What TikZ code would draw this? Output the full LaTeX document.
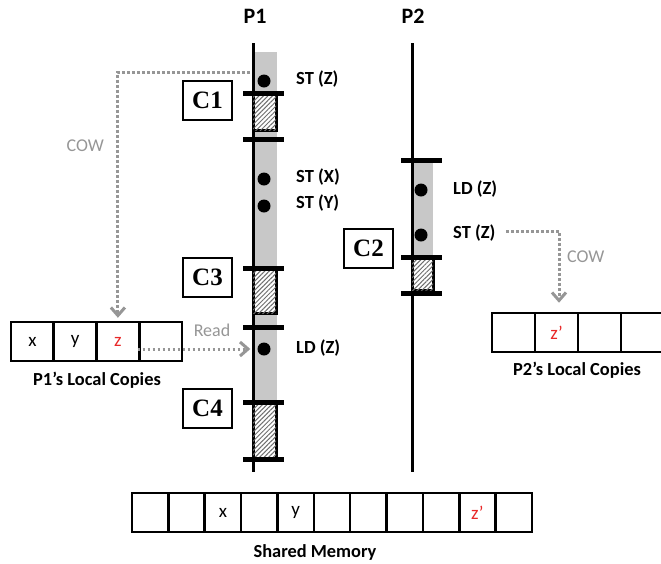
\documentclass[tikz,border=0pt]{standalone}
\usepackage{fontspec}
\setmainfont{Carlito}
\newfontfamily\serifbf{Liberation Serif}
\usetikzlibrary{arrows.meta,patterns.meta}
\definecolor{band}{RGB}{200,200,200}
\definecolor{cowgray}{RGB}{150,150,150}
\definecolor{zred}{RGB}{232,40,40}
\definecolor{hatchc}{RGB}{110,110,110}
\tikzset{
  proc/.style={line width=3pt},
  barline/.style={line width=5pt},
  hatchbox/.style={draw=black,line width=3pt,fill=white,
    postaction={pattern={Lines[angle=45,distance=3.2pt,line width=1pt]},pattern color=hatchc}},
  dot/.style={circle,fill=black,inner sep=0pt,minimum size=13pt},
  ckbox/.style={draw,line width=2pt,minimum width=49pt,minimum height=39pt,inner sep=0pt,
    font=\serifbf\bfseries\fontsize{25}{25}\selectfont},
  lab/.style={anchor=west,inner sep=0pt,font=\bfseries\fontsize{18.5}{19}\selectfont},
  ptitle/.style={inner sep=0pt,font=\bfseries\fontsize{22}{22}\selectfont},
  captxt/.style={inner sep=0pt,font=\bfseries\fontsize{18.4}{19}\selectfont},
  graytxt/.style={inner sep=0pt,text=cowgray,font=\fontsize{18}{18}\selectfont},
  cowline/.style={draw=cowgray,line width=3pt,dash pattern=on 2.6pt off 2.4pt,
    -{Straight Barb[length=8pt,width=14pt,line width=3pt]}},
  cellp/.style={draw,line width=2.5pt,minimum width=42.75pt,minimum height=39pt,inner sep=0pt,
    font=\fontsize{19}{19}\selectfont},
  cellm/.style={draw,line width=2.5pt,minimum width=36.36pt,minimum height=39pt,inner sep=0pt,
    font=\fontsize{19}{19}\selectfont},
}
\begin{document}
\begin{tikzpicture}[x=1pt,y=-1pt]
\useasboundingbox (0,0) rectangle (661,563);
% titles
\node[ptitle] (P1) at (255,16) {P1};
\node[ptitle] (P2) at (413,16) {P2};
% P1 timeline
\fill[band] (253,52) rectangle (277,402);
\coordinate (p1top) at (253,43);
\coordinate (p1bot) at (253,472);
\draw[proc] (p1top) -- (p1bot);
% P2 timeline
\fill[band] (412,160) rectangle (433,257);
\coordinate (p2top) at (412,43);
\coordinate (p2bot) at (412,472);
\draw[proc] (p2top) -- (p2bot);
% hatched boxes
\draw[hatchbox] (253,93) rectangle (276,130);
\draw[hatchbox] (253,268) rectangle (276,313);
\draw[hatchbox] (253,402) rectangle (276,459);
\draw[hatchbox] (412,257) rectangle (433,290);
% bars
\foreach \y/\n in {93/a,139/b,268/c,327/d,402/e,459/f}{
  \coordinate (b1\n l) at (243,\y); \coordinate (b1\n r) at (284,\y);
  \draw[barline] (b1\n l) -- (b1\n r);
}
\foreach \y/\n in {160/a,257/b,293/c}{
  \coordinate (b2\n l) at (401,\y); \coordinate (b2\n r) at (442,\y);
  \draw[barline] (b2\n l) -- (b2\n r);
}
% checkpoint boxes
\node[ckbox] (C1) at (207.5,100.5) {C1};
\node[ckbox] (C3) at (207.5,277) {C3};
\node[ckbox] (C4) at (207.5,408.5) {C4};
\node[ckbox] (C2) at (368.5,248.5) {C2};
% dots and labels P1
\node[dot] (d1) at (264,81) {};
\node[dot] (d2) at (264,179) {};
\node[dot] (d3) at (264,206) {};
\node[dot] (d4) at (264,349) {};
\node[lab] (l1) at (296,79) {ST (Z)};
\node[lab] (l2) at (296,177) {ST (X)};
\node[lab] (l3) at (296,203) {ST (Y)};
\node[lab] (l4) at (296,348) {LD (Z)};
% dots and labels P2
\node[dot] (e1) at (421,190) {};
\node[dot] (e2) at (421,235) {};
\node[lab] (k1) at (453,189) {LD (Z)};
\node[lab] (k2) at (453,233) {ST (Z)};
% P1 local copies
\node[cellp] (lx) at (32.4,341.5) {x};
\node[cellp] (ly) at (75.1,341.5) {y};
\node[cellp,text=zred] (lz) at (117.9,341.5) {z};
\node[cellp] (lw) at (160.6,341.5) {};
\node[captxt] (lcap) at (97,380) {P1’s Local Copies};
% P2 local copies
\node[cellp] (ra) at (513.5,332.5) {};
\node[cellp,text=zred] (rz) at (556.5,332.5) {z’};
\node[cellp] (rc) at (599.5,332.5) {};
\node[cellp] (rd) at (642.5,332.5) {};
\node[captxt] (rcap) at (577,370) {P2’s Local Copies};
% shared memory
\foreach \i/\t in {1/,2/,3/x,4/,5/y,6/,7/,8/,9/,10/,11/}{
  \node[cellm] (m\i) at ({132+36.364*(\i-0.5)},512.5) {\t};
}
\node[cellm,text=zred,draw=none] (mz) at (m10) {z’};
\node[captxt] (mcap) at (315,552) {Shared Memory};
% COW P1
\coordinate (cow1s) at (250,72);
\draw[cowline,shorten >=3pt] (cow1s) -| (lz.north);
\node[graytxt,anchor=east] (cow1) at (104,146) {COW};
% Read
\draw[cowline,shorten >=7pt] ([xshift=-3pt]lz.east |- d4.west) -- (d4.west);
\node[graytxt] (rd1) at (212,330) {Read};
% COW P2
\coordinate (cow2s) at (506,231);
\draw[cowline,shorten >=9pt] (cow2s) -| ([xshift=2.5pt]rz.north);
\node[graytxt,anchor=west] (cow2) at (567,257) {COW};
\end{tikzpicture}
\end{document}
